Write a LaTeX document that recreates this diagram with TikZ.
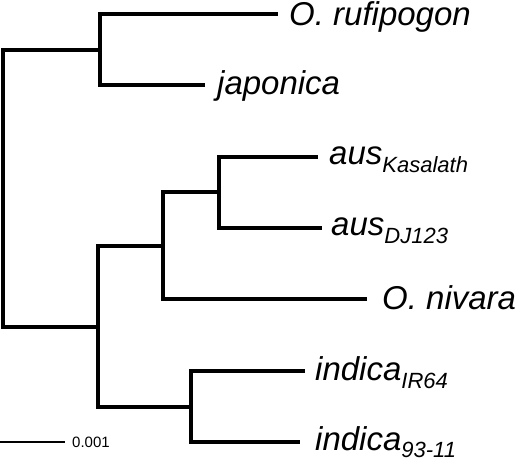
\documentclass[tikz,border=0pt]{standalone}
\usepackage{fontspec}
\setmainfont{Liberation Sans}
\usetikzlibrary{positioning}
\newcommand{\strain}[2][8pt]{\raisebox{-#1}{\fontsize{22}{26}\selectfont #2}}

\begin{document}
\begin{tikzpicture}[
  x=1pt, y=-1pt,
  branch/.style={line width=3.2pt},
  bar/.style={line width=1.8pt},
  taxon/.style={font=\fontsize{33}{39}\selectfont\itshape, inner sep=0pt},
  lbl/.style={font=\fontsize{15}{18}\selectfont, inner sep=0pt}
]
\useasboundingbox (0,0) rectangle (520,462);
% internal nodes
\coordinate (root) at (3,188.5);
\coordinate (wild) at (100,50);
\coordinate (rest) at (98,327);
\coordinate (ausniv) at (163,246);
\coordinate (aus) at (219,192);
\coordinate (ind) at (191,407);
% leaves
\coordinate (ruf) at (278,14);
\coordinate (jap) at (205,85);
\coordinate (kas) at (318,157);
\coordinate (dj) at (322,228);
\coordinate (niv) at (367,299);
\coordinate (ir) at (305,371);
\coordinate (n93) at (300,442);

\draw[branch] (root) |- (wild);
\draw[branch] (root) |- (rest);
\draw[branch] (wild) |- (ruf);
\draw[branch] (wild) |- (jap);
\draw[branch] (rest) |- (ausniv);
\draw[branch] (rest) |- (ind);
\draw[branch] (ausniv) |- (aus);
\draw[branch] (ausniv) |- (niv);
\draw[branch] (aus) |- (kas);
\draw[branch] (aus) |- (dj);
\draw[branch] (ind) |- (ir);
\draw[branch] (ind) |- (n93);

\node[taxon, below right=12pt and 11pt of ruf, anchor=base west] (t-ruf) {O. rufipogon};
\node[taxon, below right=10pt and 12pt of jap, anchor=base west] (t-jap) {japonica};
\node[taxon, below right=8pt and 11pt of kas, anchor=base west] (t-kas) {aus\strain{Kasalath}};
\node[taxon, below right=8pt and 9pt of dj, anchor=base west] (t-dj) {aus\strain{DJ123}};
\node[taxon, below right=11pt and 15pt of niv, anchor=base west] (t-niv) {O. nivara};
\node[taxon, below right=10pt and 10pt of ir, anchor=base west] (t-ir) {indica\strain{IR64}};
\node[taxon, below right=9pt and 15pt of n93, anchor=base west] (t-n93) {indica\strain[7pt]{93-11}};

% scale bar
\coordinate (sb1) at (0,442);
\coordinate (sb2) at (65,442);
\draw[bar] (sb1) -- (sb2);
\node[lbl, right=7pt of sb2] (scale) {0.001};
\end{tikzpicture}
\end{document}
